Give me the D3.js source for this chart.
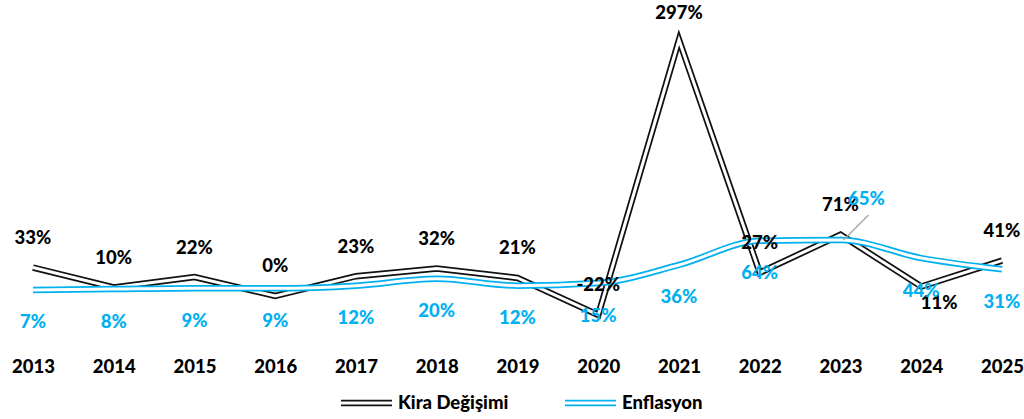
<!DOCTYPE html>
<html>
<head>
<meta charset="utf-8">
<script src="https://cdn.jsdelivr.net/npm/d3@7"></script>
<style>
  body { margin: 0; background: #fff; }
  text { font-family: Lato, "Open Sans", sans-serif; font-weight: 900; }
</style>
</head>
<body>
<div id="chart"></div>
<script>
// Yillar ve seriler
const years = ["2013", "2014", "2015", "2016", "2017", "2018", "2019", "2020", "2021", "2022", "2023", "2024", "2025"];
const kira = [33, 10, 22, 0, 23, 32, 21, -22, 297, 27, 71, 11, 41];
const enflasyon = [7, 8, 9, 9, 12, 20, 12, 15, 36, 64, 65, 44, 31];

const width = 1024, height = 419;
const colorKira = "#111111";
const colorEnf = "#00b0f0";
const fontSize = "18.5px";

const svg = d3.select("#chart")
  .append("svg")
  .attr("width", width)
  .attr("height", height);

// Skalalar
const x = d3.scalePoint()
  .domain(years)
  .range([33, 1002]);

const y = d3.scaleLinear()
  .domain([0, 297])
  .range([296, 40]);

// Yil etiketleri
svg.append("g")
  .attr("transform", "translate(0,367)")
  .call(d3.axisBottom(x).tickSize(0).tickPadding(0))
  .call(g => g.select(".domain").remove())
  .call(g => g.selectAll("text")
    .attr("dy", "0.35em")
    .attr("fill", "#000")
    .style("font-size", fontSize)
    .style("font-family", "Lato, sans-serif")
    .style("font-weight", "900"));

// Cift cizgi
function doubleLine(values, color, curve) {
  const line = d3.line()
    .x((d, i) => x(years[i]))
    .y(d => y(d))
    .curve(curve);
  svg.append("path")
    .datum(values)
    .attr("d", line)
    .attr("fill", "none")
    .attr("stroke", color)
    .attr("stroke-width", 6.5)
    .attr("stroke-linejoin", "miter");
  svg.append("path")
    .datum(values)
    .attr("d", line)
    .attr("fill", "none")
    .attr("stroke", "#fff")
    .attr("stroke-width", 3)
    .attr("stroke-linejoin", "miter");
}

doubleLine(kira, colorKira, d3.curveLinear);
doubleLine(enflasyon, colorEnf, d3.curveMonotoneX);

// Etiket konumu duzeltmeleri (elle tasinmis olanlar)
const kiraShift = { "2021": [0, 3], "2024": [18, 46] };
const enfShift = { "2023": [26, -41] };

// 65% icin yonlendirme cizgisi
svg.append("line")
  .attr("x1", x("2023") + 28)
  .attr("y1", y(65) - 25)
  .attr("x2", x("2023") + 3)
  .attr("y2", y(65))
  .attr("stroke", "#a6a6a6")
  .attr("stroke-width", 1.5);

// Kira etiketleri (ustte)
svg.append("g")
  .selectAll("text")
  .data(kira)
  .join("text")
  .attr("x", (d, i) => x(years[i]) + (kiraShift[years[i]] ? kiraShift[years[i]][0] : 0))
  .attr("y", (d, i) => y(d) - 30 + (kiraShift[years[i]] ? kiraShift[years[i]][1] : 0))
  .attr("dy", "0.35em")
  .attr("text-anchor", "middle")
  .attr("fill", "#000")
  .style("font-size", fontSize)
  .text(d => d + "%");

// Enflasyon etiketleri (altta)
svg.append("g")
  .selectAll("text")
  .data(enflasyon)
  .join("text")
  .attr("x", (d, i) => x(years[i]) + (enfShift[years[i]] ? enfShift[years[i]][0] : 0))
  .attr("y", (d, i) => enfShift[years[i]] ? y(d) + enfShift[years[i]][1] : y(d) + 32)
  .attr("dy", "0.35em")
  .attr("text-anchor", "middle")
  .attr("fill", colorEnf)
  .style("font-size", fontSize)
  .text(d => d + "%");

// Legend
const legend = [
  { name: "Kira Değişimi", color: colorKira, x: 341 },
  { name: "Enflasyon", color: colorEnf, x: 565 }
];
legend.forEach(l => {
  const g = svg.append("g").attr("transform", `translate(${l.x},403)`);
  g.append("line").attr("x1", 0).attr("x2", 51)
    .attr("stroke", l.color).attr("stroke-width", 6.5);
  g.append("line").attr("x1", 0).attr("x2", 51)
    .attr("stroke", "#fff").attr("stroke-width", 3);
  g.append("text")
    .attr("x", 57)
    .attr("dy", "0.35em")
    .attr("fill", "#000")
    .style("font-size", fontSize)
    .text(l.name);
});
</script>
</body>
</html>
